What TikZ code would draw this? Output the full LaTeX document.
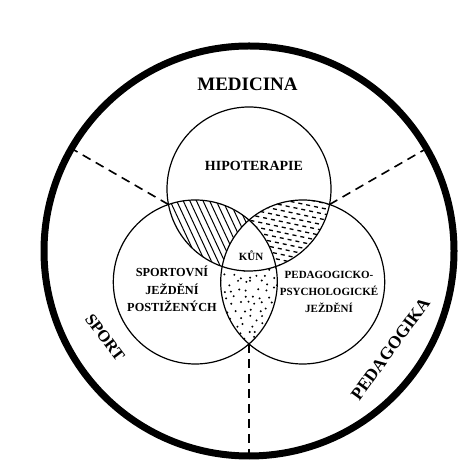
\documentclass[tikz,border=0pt]{standalone}
\usepackage{fontspec}
\setmainfont{Liberation Serif}
\usetikzlibrary{calc}
\begin{document}
\begin{tikzpicture}[x=1pt,y=1pt,
  ring/.style={circle, draw, line width=1.2pt, minimum size=164pt, inner sep=0pt},
  sep/.style={dash pattern=on 9pt off 6pt, line width=1.6pt},
  lbl/.style={inner sep=0pt, align=center}]
\useasboundingbox (0,0) rectangle (460,470);
\fill[white] (0,0) rectangle (460,470);
\coordinate (C) at (249,219);
\coordinate (T) at (249,281);
\coordinate (L) at (195.3,188);
\coordinate (R) at (302.7,188);
\def\rr{82}
% top-left lens: line hatching
\begin{scope}
  \clip (T) circle (\rr);
  \clip (L) circle (\rr);
  \foreach \x in {120,126.6,...,380} { \draw[line width=1pt] (\x,150) -- ++(115:260); }
\end{scope}
% top-right lens: short dashes
\begin{scope}
  \clip (T) circle (\rr);
  \clip (R) circle (\rr);
  \foreach \j in {0,...,24} {
    \pgfmathsetmacro\ph{mod(\j*3,8)}
    \draw[line width=1.3pt, dash pattern=on 4pt off 4pt, dash phase=\ph pt] (225,200+\j*5.5) -- ++(-12:140);
  }
\end{scope}
% bottom lens: dots
\begin{scope}
  \clip (L) circle (\rr);
  \clip (R) circle (\rr);
  \pgfmathsetseed{7}
  \foreach \i in {0,...,12} {
    \foreach \j in {0,...,14} {
      \pgfmathsetmacro\mydx{200+\i*8+rand*2.5+mod(\j,2)*4}
      \pgfmathsetmacro\mydy{110+\j*7+rand*2.5}
      \fill (\mydx,\mydy) circle (1.1);
    }
  }
\end{scope}
% blank centre
\begin{scope}
  \clip (T) circle (\rr);
  \clip (L) circle (\rr);
  \fill[white] (R) circle (\rr);
\end{scope}
% circles
\node[ring] (ctop) at (T) {};
\node[ring] (cleft) at (L) {};
\node[ring] (cright) at (R) {};
\node[circle, draw, line width=7pt, minimum size=410pt, inner sep=0pt] (outer) at (C) {};
% separators
\coordinate (s1a) at ($(C)+(150:93)$);
\coordinate (s1b) at ($(C)+(150:202)$);
\coordinate (s2a) at ($(C)+(30:93)$);
\coordinate (s2b) at ($(C)+(30:202)$);
\coordinate (s3a) at ($(C)+(270:93)$);
\coordinate (s3b) at ($(C)+(270:202)$);
\draw[sep] (s1a) -- (s1b);
\draw[sep] (s2a) -- (s2b);
\draw[sep] (s3a) -- (s3b);
% labels
\node[lbl, font=\fontsize{19}{22}\selectfont\bfseries] (med) at (247.5,385.5) {MEDICINA};
\node[lbl, font=\fontsize{14}{16}\selectfont\bfseries] (hip) at (254,304) {HIPOTERAPIE};
\node[lbl, font=\fontsize{11}{13}\selectfont\bfseries] (kun) at (251,214) {KŮN};
\node[lbl, font=\fontsize{12.3}{17.5}\selectfont\bfseries] (spj) at (172,181) {SPORTOVNÍ\\JEŽDĚNÍ\\POSTIŽENÝCH};
\node[lbl, font=\fontsize{11}{17}\selectfont\bfseries] (pps) at (329,178) {PEDAGOGICKO-\\PSYCHOLOGICKÉ\\JEŽDĚNÍ};
\node[lbl, font=\fontsize{16.5}{20}\selectfont\bfseries, rotate=-53] (sport) at ($(C)+(211:168)$) {SPORT};
\node[lbl, font=\fontsize{17.5}{20}\selectfont\bfseries, rotate=54] (ped) at ($(C)+(-34.7:172)$) {PEDAGOGIKA};
\end{tikzpicture}
\end{document}
